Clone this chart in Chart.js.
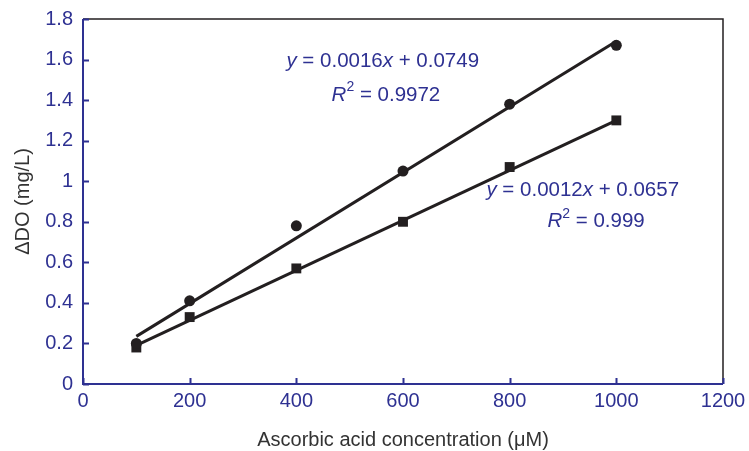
<!DOCTYPE html>
<html>
<head>
<meta charset="utf-8">
<script src="https://cdn.jsdelivr.net/npm/chart.js@4"></script>
<style>
  html, body { margin: 0; padding: 0; background: #fff; }
  #wrap { width: 749px; height: 451px; }
</style>
</head>
<body>
<div id="wrap"><canvas id="chart" width="749" height="451"></canvas></div>
<script>
// measured points
const concentration = [100, 200, 400, 600, 800, 1000];
const circleValues = [0.20, 0.41, 0.78, 1.05, 1.38, 1.67];
const squareValues = [0.18, 0.33, 0.57, 0.80, 1.07, 1.30];

// trend line ends
const trendX = [100, 1000];
const circleTrend = [0.235, 1.69];
const squareTrend = [0.19, 1.30];

const xTicks = [0, 200, 400, 600, 800, 1000, 1200];
const yTickLabels = ["0", "0.2", "0.4", "0.6", "0.8", "1", "1.2", "1.4", "1.6", "1.8"];

const NAVY = "#2e3192";
const INK = "#231f20";
const FONT = "'Liberation Sans', Arial, sans-serif";

const toPts = (xs, ys) => xs.map((x, i) => ({ x: x, y: ys[i] }));

// equations on the chart
const labels = [
  { x: 562, y: 1.59, parts: [["y", 1], [" = 0.0016", 0], ["x", 1], [" + 0.0749", 0]] },
  { x: 568, y: 1.425, parts: [["R", 1], ["2", 2], [" = 0.9972", 0]] },
  { x: 937, y: 0.955, parts: [["y", 1], [" = 0.0012", 0], ["x", 1], [" + 0.0657", 0]] },
  { x: 962, y: 0.80, parts: [["R", 1], ["2", 2], [" = 0.999", 0]] },
];

const frame = {
  id: "frame",
  afterDraw(chart) {
    const { ctx, chartArea: a, scales } = chart;
    ctx.save();
    // top + right border
    ctx.strokeStyle = INK;
    ctx.lineWidth = 1.5;
    ctx.beginPath();
    ctx.moveTo(a.left, a.top);
    ctx.lineTo(a.right, a.top);
    ctx.lineTo(a.right, a.bottom);
    ctx.stroke();
    // left + bottom axis with inward ticks
    ctx.strokeStyle = NAVY;
    ctx.lineWidth = 2;
    ctx.beginPath();
    ctx.moveTo(a.left, a.top);
    ctx.lineTo(a.left, a.bottom);
    ctx.lineTo(a.right, a.bottom);
    yTickLabels.forEach((_, i) => {
      const py = Math.round(scales.y.getPixelForValue(i * 0.2)) + 0.5;
      ctx.moveTo(a.left, py);
      ctx.lineTo(a.left + 6, py);
    });
    xTicks.forEach(v => {
      const px = Math.round(scales.x.getPixelForValue(v)) + 0.5;
      ctx.moveTo(px, a.bottom);
      ctx.lineTo(px, a.bottom - 6);
    });
    ctx.stroke();

    // equation texts
    ctx.fillStyle = NAVY;
    ctx.textBaseline = "middle";
    labels.forEach(l => {
      const fonts = l.parts.map(p =>
        p[1] === 1 ? "italic 20.5px " + FONT : p[1] === 2 ? "14px " + FONT : "20.5px " + FONT);
      let w = 0;
      const widths = l.parts.map((p, i) => { ctx.font = fonts[i]; const m = ctx.measureText(p[0]).width; w += m; return m; });
      let x = scales.x.getPixelForValue(l.x) - w / 2;
      const y = scales.y.getPixelForValue(l.y);
      l.parts.forEach((p, i) => {
        ctx.font = fonts[i];
        ctx.fillText(p[0], x, p[1] === 2 ? y - 8 : y);
        x += widths[i];
      });
    });
    ctx.restore();
  }
};

new Chart(document.getElementById("chart"), {
  type: "scatter",
  data: {
    datasets: [
      {
        data: toPts(trendX, circleTrend),
        showLine: true, borderColor: INK, borderWidth: 3, pointRadius: 0, order: 3,
      },
      {
        data: toPts(trendX, squareTrend),
        showLine: true, borderColor: INK, borderWidth: 3, pointRadius: 0, order: 3,
      },
      {
        data: toPts(concentration, circleValues),
        pointStyle: "circle", pointRadius: 5.5, backgroundColor: INK, borderColor: INK, borderWidth: 0, order: 1,
      },
      {
        data: toPts(concentration, squareValues),
        pointStyle: "rect", pointRadius: 7, backgroundColor: INK, borderColor: INK, borderWidth: 0, order: 1,
      },
    ],
  },
  options: {
    responsive: false,
    animation: false,
    events: [],
    layout: { padding: { left: 0, top: 19, right: 26, bottom: 0 } },
    plugins: { legend: { display: false }, tooltip: { enabled: false } },
    scales: {
      x: {
        type: "linear", min: 0, max: 1200,
        afterFit: s => { s.height = 67; },
        afterBuildTicks: s => { s.ticks = xTicks.map(v => ({ value: v })); },
        grid: { display: false },
        border: { display: false },
        ticks: {
          color: NAVY, font: { family: FONT, size: 20 }, padding: -3,
          callback: v => String(v),
        },
        title: {
          display: true, text: "Ascorbic acid concentration (\u03bcM)",
          color: "#333", font: { family: FONT, size: 20 }, padding: { top: 4, bottom: -1 },
        },
      },
      y: {
        min: 0, max: 1.8,
        afterFit: s => { s.width = 83; },
        ticks: {
          stepSize: 0.2, color: NAVY, font: { family: FONT, size: 20 }, padding: 2,
          callback: (v, i) => yTickLabels[i],
        },
        grid: { display: false },
        border: { display: false },
        title: {
          display: true, text: "\u0394DO (mg/L)",
          color: "#333", font: { family: FONT, size: 20 }, padding: { top: 11, bottom: 0 },
        },
      },
    },
  },
  plugins: [frame],
});
</script>
</body>
</html>
